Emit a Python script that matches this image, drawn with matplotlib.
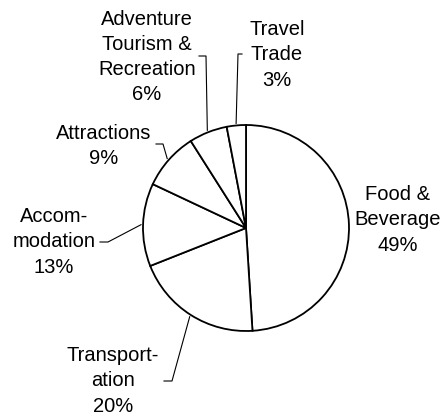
import numpy as np
import matplotlib.pyplot as plt

plt.rcParams['font.family'] = ['Liberation Sans', 'DejaVu Sans']

labels = ["Food &\nBeverage", "Transport-\nation", "Accom-\nmodation",
          "Attractions", "Adventure\nTourism &\nRecreation", "Travel\nTrade"]
shares = [49, 20, 13, 9, 6, 3]

# layout in pixels (x, y from top-left): label centre, leader elbow, leader end
W, H = 444, 416
cx, cy, R = 246, 228, 103
label_pos = [(398, 220), (113, 381), (54, 242), (104, 146), (147, 57), (277, 55)]
elbows = [None, (172, 381), (108, 242), (163, 144), (206, 56), (238, 54)]
ends = [None, (164, 381), (100, 242), (156, 144), (199, 56), (242, 54)]


def px(x, y):
    return (x - cx) / R, (cy - y) / R


fig = plt.figure(figsize=(W / 100, H / 100), dpi=100)
ax = fig.add_axes([0, 0, 1, 1])
ax.pie(shares, startangle=90, counterclock=False, radius=1,
       colors=['white'] * len(shares),
       wedgeprops={'edgecolor': 'black', 'linewidth': 1.3})
ax.set_xlim(px(0, 0)[0], px(W, 0)[0])
ax.set_ylim(px(0, H)[1], px(0, 0)[1])
ax.set_aspect('equal')
ax.axis('off')

angle = 90.0
for i, (lab, s) in enumerate(zip(labels, shares)):
    mid = np.deg2rad(angle - s * 3.6 / 2)
    angle -= s * 3.6
    tx, ty = px(*label_pos[i])
    ax.text(tx, ty, f"{lab}\n{s}%", ha='center', va='center',
            fontsize=14.5, linespacing=1.42)
    if elbows[i] is not None:
        ex, ey = px(*elbows[i])
        fx, fy = px(*ends[i])
        ax.plot([1.02 * np.cos(mid), ex, fx], [1.02 * np.sin(mid), ey, fy],
                color='black', lw=0.8)

plt.savefig('out.png', dpi=100)
